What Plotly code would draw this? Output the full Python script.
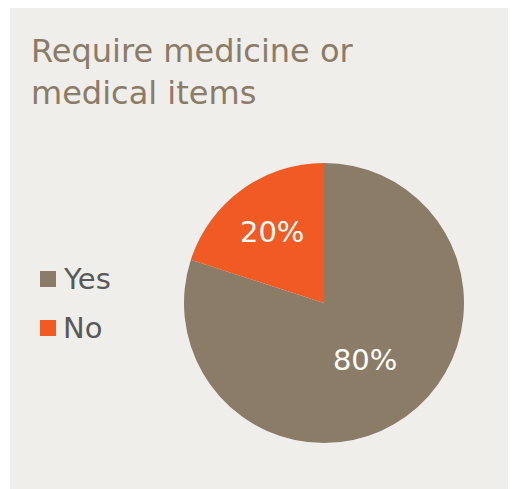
import plotly.graph_objects as go

labels = ["Yes", "No"]
values = [80, 20]
colors = ["#8B7C67", "#F15A22"]
title_text = "Require medicine or<br>medical items"

# The figure sits inside the page's default 8px body margin.
W, H = 508, 481
FONT = "Verdana, DejaVu Sans, sans-serif"


def px(x):
    return x / W


def py(y):
    return 1 - y / H


fig = go.Figure()
fig.add_trace(go.Pie(
    labels=labels,
    values=values,
    marker=dict(colors=colors, line=dict(width=0)),
    sort=False,
    direction="clockwise",
    rotation=0,
    texttemplate="%{percent:.0%}",
    textposition="inside",
    insidetextorientation="horizontal",
    textfont=dict(family=FONT, size=29, color="white"),
    domain=dict(x=[px(176), px(456)], y=[py(435), py(155)]),
    hoverinfo="label+percent",
    showlegend=False,
))

# Legend drawn as square swatches + labels (Excel style, larger spacing)
shapes = [dict(type="rect", xref="paper", yref="paper",
               x0=0, x1=px(2), y0=0, y1=1,
               fillcolor="white", line=dict(width=0), layer="below")]
annotations = [dict(
    text=title_text, xref="paper", yref="paper",
    x=px(21), y=py(22), xanchor="left", yanchor="top",
    align="left", showarrow=False,
    font=dict(family=FONT, size=32, color="#8B7C67"),
)]
legend_top = 263
legend_step = 49
for i, (lab, col) in enumerate(zip(labels, colors)):
    y0 = legend_top + i * legend_step
    shapes.append(dict(type="rect", xref="paper", yref="paper",
                       x0=px(32), x1=px(48), y0=py(y0 + 16), y1=py(y0),
                       fillcolor=col, line=dict(width=0)))
    annotations.append(dict(
        text=lab, xref="paper", yref="paper",
        x=px(53), y=py(y0 + 8), xanchor="left", yanchor="middle",
        showarrow=False, font=dict(family=FONT, size=29, color="#595959"),
    ))

fig.update_layout(
    width=W, height=H,
    margin=dict(l=0, r=0, t=0, b=0),
    paper_bgcolor="#EFEEEA",
    plot_bgcolor="#EFEEEA",
    showlegend=False,
    shapes=shapes,
    annotations=annotations,
)

fig.write_html("out.html")
